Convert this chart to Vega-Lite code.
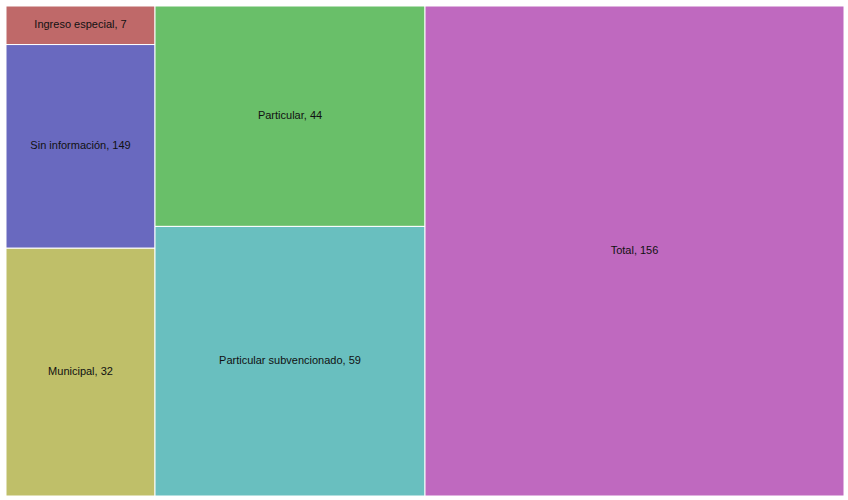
{
  "$schema": "https://vega.github.io/schema/vega-lite/v6.json",
  "width": 848,
  "height": 500,
  "autosize": {"type": "fit", "contains": "padding"},
  "padding": {"left": 5, "top": 5, "right": 3, "bottom": 3},
  "background": "white",
  "config": {"view": {"stroke": null}},
  "data": {
    "values": [
      {"name": "Ingreso especial", "value": 7, "weight": 5.74, "col": 1, "row": 1},
      {"name": "Sin información", "value": 149, "weight": 30.32, "col": 1, "row": 2},
      {"name": "Municipal", "value": 32, "weight": 36.88, "col": 1, "row": 3},
      {"name": "Particular", "value": 44, "weight": 59.45, "col": 2, "row": 1},
      {"name": "Particular subvencionado", "value": 59, "weight": 72.71, "col": 2, "row": 2},
      {"name": "Total", "value": 156, "weight": 205.1, "col": 3, "row": 1}
    ]
  },
  "transform": [
    {"stack": "weight", "groupby": [], "sort": [{"field": "col"}, {"field": "row"}], "as": ["s0", "s1"]},
    {"joinaggregate": [{"op": "min", "field": "s0", "as": "x0"}, {"op": "max", "field": "s1", "as": "x1"}], "groupby": ["col"]},
    {"stack": "weight", "groupby": ["col"], "sort": [{"field": "row"}], "offset": "normalize", "as": ["y0", "y1"]}
  ],
  "layer": [
    {
      "mark": {"type": "rect", "stroke": "white", "strokeWidth": 1},
      "encoding": {
        "x": {"field": "x0", "type": "quantitative", "scale": {"nice": false, "zero": true}, "axis": null},
        "x2": {"field": "x1"},
        "y": {"field": "y0", "type": "quantitative", "scale": {"nice": false, "zero": true, "reverse": true, "domain": [0, 1]}, "axis": null},
        "y2": {"field": "y1"},
        "color": {
          "field": "name",
          "type": "nominal",
          "scale": {
            "domain": ["Ingreso especial", "Sin información", "Municipal", "Particular", "Particular subvencionado", "Total"],
            "range": ["#bf6969", "#6969bf", "#bfbf69", "#69bf69", "#69bfbf", "#bf69bf"]
          },
          "legend": null
        }
      }
    },
    {
      "transform": [
        {"fold": ["x0", "x1"], "as": ["kx", "vx"]},
        {"fold": ["y0", "y1"], "as": ["ky", "vy"]},
        {"aggregate": [{"op": "mean", "field": "vx", "as": "cx"}, {"op": "mean", "field": "vy", "as": "cy"}], "groupby": ["name", "value"]},
        {"calculate": "datum.name + ', ' + datum.value", "as": "label"}
      ],
      "mark": {"type": "text", "font": "Liberation Sans", "fontSize": 11, "color": "#111111", "align": "center", "baseline": "middle"},
      "encoding": {
        "x": {"field": "cx", "type": "quantitative", "axis": null},
        "y": {"field": "cy", "type": "quantitative", "axis": null},
        "text": {"field": "label"}
      }
    }
  ]
}
